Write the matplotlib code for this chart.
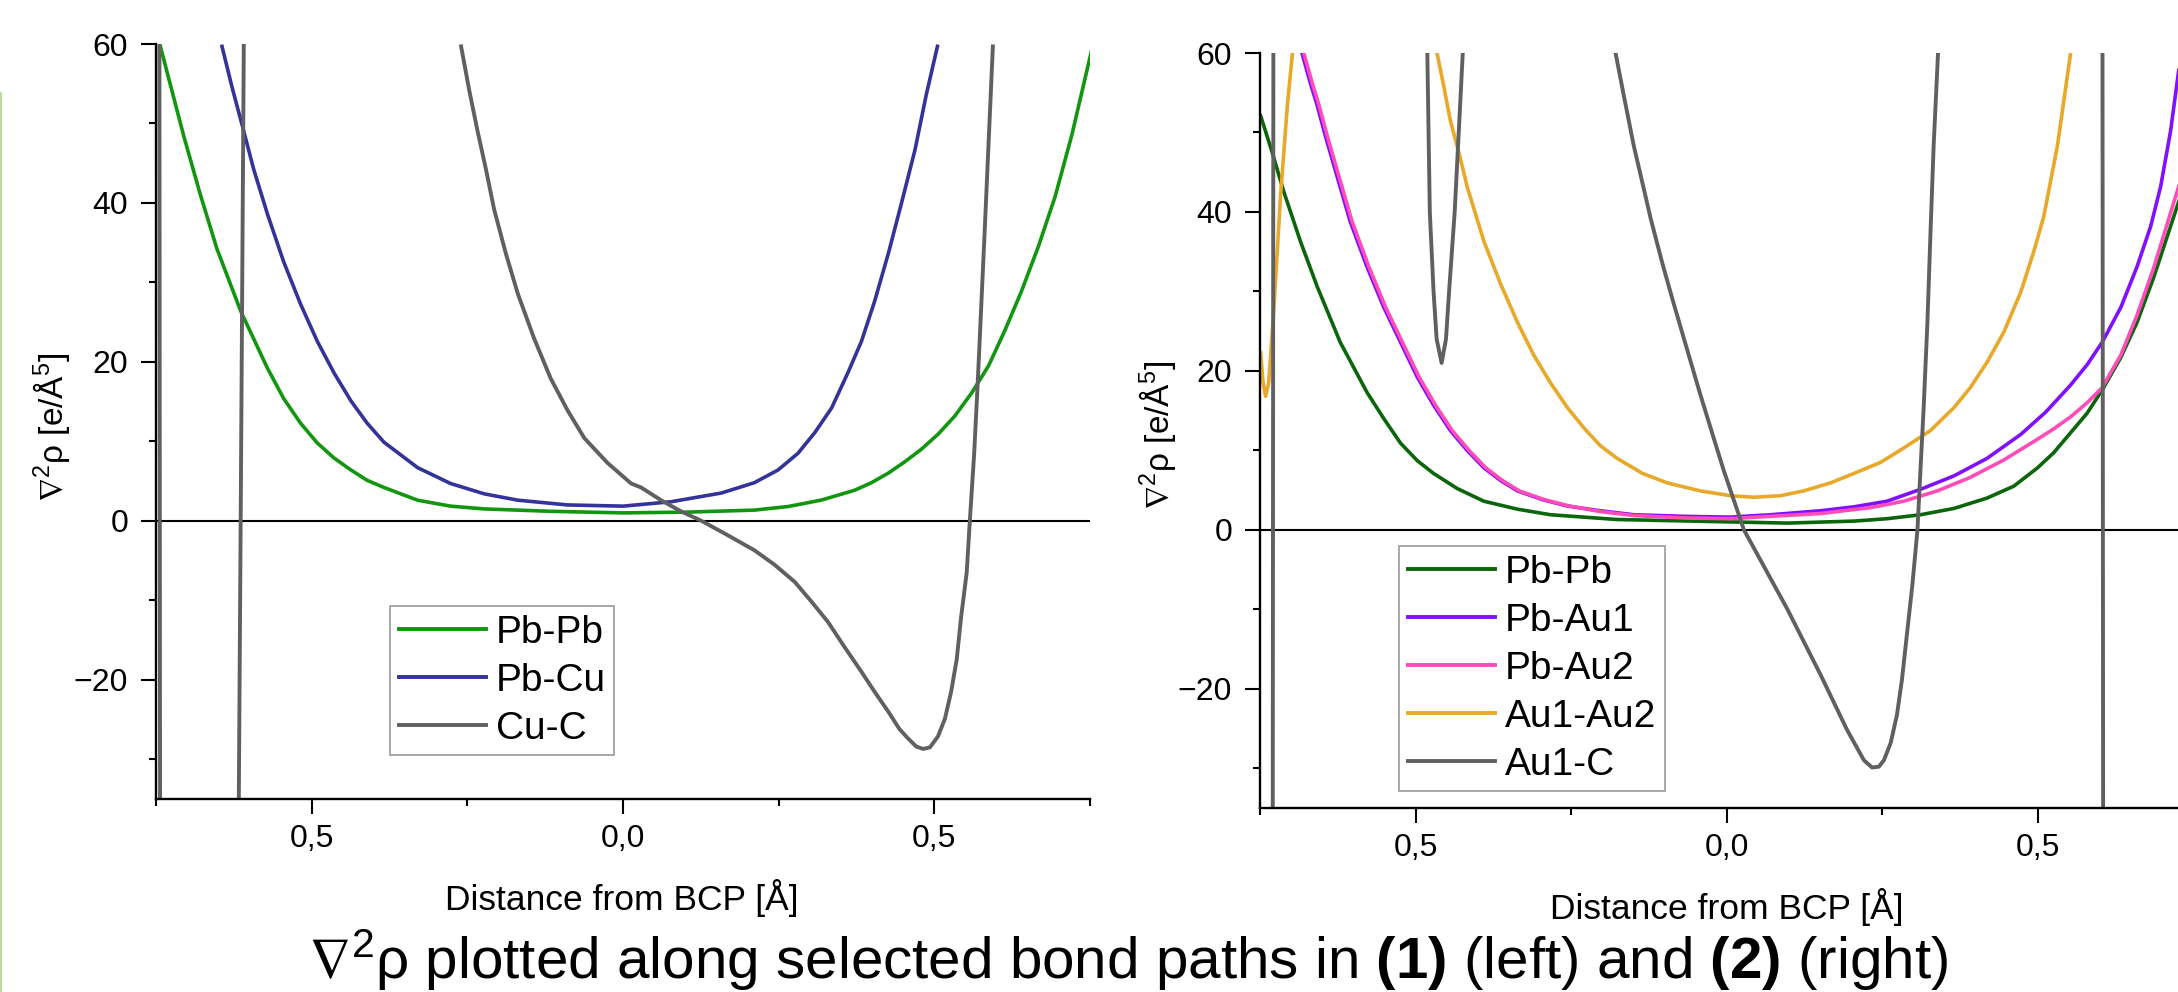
import numpy as np
import matplotlib
matplotlib.use("Agg")
import matplotlib.pyplot as plt
from matplotlib.lines import Line2D
from matplotlib.ticker import FixedLocator, FixedFormatter

plt.rcParams['font.family'] = ['Liberation Sans', 'DejaVu Sans']
plt.rcParams['mathtext.fontset'] = 'custom'
plt.rcParams['mathtext.rm'] = 'Liberation Sans'
plt.rcParams['mathtext.it'] = 'Liberation Sans:italic'
plt.rcParams['mathtext.bf'] = 'Liberation Sans:bold'
plt.rcParams['mathtext.fallback'] = 'stixsans'

nan = np.nan

# ----- data, compound (1) (left) ------------------------------------

l_pbpb_x = [-0.743, -0.727, -0.705, -0.679, -0.652, -0.614, -0.571, -0.545, -0.518, -0.491,
            -0.464, -0.437, -0.411, -0.384, -0.330, -0.277, -0.223, -0.116, 0.0, 0.104,
            0.211, 0.265, 0.318, 0.372, 0.399, 0.426, 0.452, 0.479, 0.506, 0.533,
            0.560, 0.587, 0.613, 0.640, 0.667, 0.694, 0.721, 0.752]
l_pbpb_y = [59.7, 54.9, 48.3, 41.1, 34.2, 26.4, 19.2, 15.4, 12.3, 9.8,
            7.9, 6.4, 5.1, 4.2, 2.6, 1.85, 1.5, 1.2, 1.0, 1.1,
            1.35, 1.8, 2.6, 3.85, 4.8, 6.0, 7.4, 9.0, 10.9, 13.2,
            16.1, 19.5, 23.9, 28.9, 34.5, 40.8, 48.6, 59.0]

l_pbcu_x = [-0.644, -0.628, -0.611, -0.593, -0.571, -0.545, -0.518, -0.491, -0.464, -0.437,
            -0.411, -0.384, -0.330, -0.277, -0.223, -0.169, -0.089, 0.0, 0.077, 0.158,
            0.211, 0.249, 0.281, 0.308, 0.335, 0.361, 0.383, 0.404, 0.426, 0.447,
            0.469, 0.487, 0.505]
l_pbcu_y = [59.7, 54.6, 49.6, 44.2, 38.6, 32.6, 27.3, 22.6, 18.6, 15.1,
            12.3, 9.9, 6.7, 4.7, 3.4, 2.6, 2.0, 1.85, 2.4, 3.5,
            4.8, 6.4, 8.5, 11.1, 14.2, 18.6, 22.6, 27.6, 33.6, 39.9,
            46.7, 53.6, 59.7]

l_cuc_x = [-0.7445, -0.7435, nan,
           -0.617, -0.613, -0.609, nan,
           -0.260, -0.247, -0.234, -0.220, -0.207, -0.188, -0.169, -0.143, -0.116, -0.089,
           -0.062, -0.025, 0.013, 0.029, 0.061, 0.093, 0.126, 0.168, 0.211, 0.243,
           0.276, 0.302, 0.329, 0.356, 0.383, 0.404, 0.426, 0.444, 0.458, 0.471,
           0.482, 0.493, 0.506, 0.517, 0.527, 0.536, 0.543, 0.552, 0.557, 0.564,
           0.570, 0.581, 0.594]
l_cuc_y = [60, -35, nan,
           -35, 12, 60, nan,
           59.7, 54.2, 49.2, 44.2, 39.2, 33.6, 28.6, 23.0, 17.9, 13.9,
           10.4, 7.3, 4.7, 4.2, 2.6, 1.2, 0.0, -1.8, -3.7, -5.5,
           -7.7, -10.1, -12.7, -15.9, -19.0, -21.5, -24.0, -26.2, -27.4, -28.4,
           -28.7, -28.5, -27.1, -24.9, -21.5, -17.4, -12.1, -6.5, 0.0, 8.5,
           17.9, 36.7, 59.7]

# ----- data, compound (2) (right) -----------------------------------

r_pbpb_x = [-0.749, -0.730, -0.712, -0.685, -0.658, -0.621, -0.578, -0.551, -0.524, -0.497,
            -0.471, -0.433, -0.390, -0.336, -0.283, -0.176, 0.006, 0.098, 0.205, 0.258,
            0.312, 0.366, 0.419, 0.462, 0.500, 0.526, 0.553, 0.580, 0.604, 0.634,
            0.660, 0.687, 0.727]
r_pbpb_y = [52.1, 47.4, 42.6, 36.3, 30.6, 23.6, 17.3, 14.0, 10.9, 8.7,
            7.1, 5.2, 3.6, 2.6, 1.9, 1.3, 1.0, 0.85, 1.1, 1.4,
            1.9, 2.7, 4.0, 5.5, 7.8, 9.7, 12.2, 14.7, 17.6, 21.7,
            26.1, 31.8, 41.3]

r_pbau1_x = [-0.682, -0.669, -0.658, -0.645, -0.631, -0.618, -0.605, -0.578, -0.551, -0.524,
             -0.497, -0.471, -0.444, -0.417, -0.390, -0.363, -0.336, -0.296, -0.256, -0.203,
             -0.149, -0.069, 0.006, 0.071, 0.151, 0.205, 0.258, 0.312, 0.366, 0.419,
             0.473, 0.513, 0.553, 0.580, 0.604, 0.634, 0.660, 0.682, 0.698, 0.714,
             0.727]
r_pbau1_y = [59.85, 56.2, 53.4, 49.6, 45.8, 42.3, 38.8, 33.1, 28.0, 23.6,
             19.2, 15.7, 12.5, 10.0, 7.8, 6.2, 4.9, 3.8, 3.0, 2.4,
             1.9, 1.7, 1.6, 1.9, 2.4, 2.9, 3.6, 5.1, 6.8, 9.0,
             12.0, 14.8, 18.2, 20.8, 23.6, 28.0, 33.1, 38.2, 43.2, 50.2,
             57.8]

r_pbau2_x = [-0.679, -0.666, -0.655, -0.642, -0.628, -0.615, -0.602, -0.575, -0.548, -0.521,
             -0.494, -0.468, -0.441, -0.414, -0.387, -0.360, -0.333, -0.293, -0.253, -0.203,
             -0.149, -0.069, 0.006, 0.071, 0.151, 0.232, 0.285, 0.339, 0.392, 0.446,
             0.500, 0.526, 0.553, 0.580, 0.604, 0.634, 0.660, 0.687, 0.727]
r_pbau2_y = [59.85, 56.2, 53.4, 49.6, 45.8, 42.3, 38.8, 33.1, 28.0, 23.6,
             19.2, 15.7, 12.5, 10.0, 7.8, 6.2, 4.9, 3.8, 3.0, 2.3,
             1.8, 1.5, 1.4, 1.7, 2.05, 2.8, 3.6, 4.9, 6.6, 8.8,
             11.4, 12.7, 14.2, 16.0, 17.9, 22.0, 27.0, 33.0, 43.2]

r_auau_x = [-0.749, -0.745, -0.741, -0.736, -0.728, -0.717, -0.706, -0.698, nan,
            -0.465, -0.454, -0.444, -0.430, -0.417, -0.390, -0.363, -0.336, -0.310, -0.283,
            -0.256, -0.229, -0.203, -0.176, -0.135, -0.095, -0.042, 0.006, 0.044, 0.087,
            0.124, 0.167, 0.205, 0.248, 0.285, 0.328, 0.366, 0.392, 0.419, 0.446,
            0.473, 0.494, 0.510, 0.532, 0.553]
r_auau_y = [22.3, 18.5, 16.8, 18.5, 27.4, 42.0, 53.4, 59.85, nan,
            59.85, 55.6, 51.5, 47.4, 43.2, 36.3, 30.9, 26.1, 22.0, 18.5,
            15.4, 12.8, 10.6, 9.0, 7.1, 5.9, 4.9, 4.3, 4.1, 4.3,
            4.9, 5.9, 7.1, 8.5, 10.3, 12.5, 15.4, 17.9, 21.1, 24.9,
            29.9, 35.0, 39.4, 48.3, 59.85]

r_auc_x = [-0.7295, -0.7285, nan,
           -0.481, -0.477, -0.471, -0.466, -0.458, -0.451, -0.446, -0.437, -0.424, nan,
           -0.178, -0.165, -0.149, -0.135, -0.122, -0.103, -0.085, -0.063, -0.042, -0.020,
           -0.005, 0.028, 0.098, 0.151, 0.194, 0.221, 0.234, 0.245, 0.253, 0.264,
           0.274, 0.282, 0.290, 0.299, 0.307, 0.312, 0.317, 0.323, 0.328, 0.333,
           0.340, nan,
           0.6045, 0.6055]
r_auc_y = [-35, 60, nan,
           60, 40, 30, 24, 21.0, 24, 30, 40, 60, nan,
           59.85, 54.6, 48.3, 43.6, 39.2, 33.5, 28.5, 22.6, 17.0, 11.4,
           7.6, 0.0, -10.0, -18.2, -25.2, -29.0, -29.9, -29.8, -29.0, -26.8,
           -23.3, -18.9, -13.2, -6.8, 0.0, 7.8, 15.4, 26.1, 37.5, 48.3,
           59.85, nan,
           60, -35]

x_ticks = [-0.5, 0.0, 0.5]
x_tick_labels = ["0,5", "0,0", "0,5"]
x_minor = [-0.75, -0.25, 0.25, 0.75]
y_ticks = [-20, 0, 20, 40, 60]
y_minor = [-30, -10, 10, 30, 50]

left_series = [
    (l_pbpb_x, l_pbpb_y, "Pb-Pb", "#13960f"),
    (l_pbcu_x, l_pbcu_y, "Pb-Cu", "#33339a"),
    (l_cuc_x, l_cuc_y, "Cu-C", "#606060"),
]
right_series = [
    (r_pbpb_x, r_pbpb_y, "Pb-Pb", "#0b660b"),
    (r_pbau1_x, r_pbau1_y, "Pb-Au1", "#8010ff"),
    (r_pbau2_x, r_pbau2_y, "Pb-Au2", "#ff4cb8"),
    (r_auau_x, r_auau_y, "Au1-Au2", "#e8a82a"),
    (r_auc_x, r_auc_y, "Au1-C", "#606060"),
]

# ----- figure -------------------------------------------------------

W, H = 2178, 992
fig = plt.figure(figsize=(W / 100, H / 100), dpi=100)


def px_axes(x0, top, w, h):
    return fig.add_axes([x0 / W, 1 - (top + h) / H, w / W, h / H])


def style(ax):
    ax.set_xlim(-0.75, 0.75)
    ax.set_ylim(-35, 60)
    ax.axhline(0, color="black", lw=1.5, zorder=1.5)
    for s in ("top", "right"):
        ax.spines[s].set_visible(False)
    for s in ("left", "bottom"):
        ax.spines[s].set_linewidth(1.7)
    ax.xaxis.set_major_locator(FixedLocator(x_ticks))
    ax.xaxis.set_major_formatter(FixedFormatter(x_tick_labels))
    ax.xaxis.set_minor_locator(FixedLocator(x_minor))
    ax.yaxis.set_major_locator(FixedLocator(y_ticks))
    ax.yaxis.set_minor_locator(FixedLocator(y_minor))
    ax.tick_params(which="major", length=10.5, width=1.5, labelsize=23, direction="out")
    ax.tick_params(which="minor", length=5, width=1.5, direction="out")
    ax.tick_params(axis="x", which="major", pad=7.5)
    ax.tick_params(axis="y", which="major", pad=9.5)


def legend(ax, series, x, y):
    handles = [Line2D([], [], color=c, lw=2.8) for _, _, _, c in series]
    labels = [n for _, _, n, _ in series]
    lg = ax.legend(handles, labels, loc="upper left",
                   bbox_to_anchor=(x / W, 1 - y / H), bbox_transform=fig.transFigure,
                   fontsize=28, frameon=True, fancybox=False, borderpad=0.22,
                   handlelength=2.25, handletextpad=0.25, labelspacing=0.31,
                   borderaxespad=0)
    lg.get_frame().set_edgecolor("#8a8a8a")
    lg.get_frame().set_linewidth(1.3)


axL = px_axes(156, 44, 934, 755)
axR = px_axes(1260, 53, 933, 755)

for ax, series in ((axL, left_series), (axR, right_series)):
    style(ax)
    for xs, ys, name, col in series:
        lw = 2.8 if col == "#606060" else 2.6
        ax.plot(xs, ys, color=col, lw=lw, zorder=2, solid_joinstyle="round")

legend(axL, left_series, 390, 606)
legend(axR, right_series, 1399, 546)

ylab = "$\\nabla^2$\u03c1 [e/\u00c5$^5$]"
fig.text(52 / W, 1 - 427 / H, ylab, rotation=90, ha="center", va="center", fontsize=24)
fig.text(1158 / W, 1 - 435 / H, ylab, rotation=90, ha="center", va="center", fontsize=24)

xlab = "Distance from BCP [\u00c5]"
fig.text(622 / W, 1 - 898 / H, xlab, ha="center", va="center", fontsize=25.5)
fig.text(1727 / W, 1 - 907 / H, xlab, ha="center", va="center", fontsize=25.5)

title = ("$\\nabla^2$\u03c1 plotted along selected bond paths in "
         "$\\mathbf{(1)}$ (left) and $\\mathbf{(2)}$ (right)")
fig.text(1128 / W, 1 - 960 / H, title, ha="center", va="center", fontsize=42)

# thin green strip left over at the left edge of the crop
fig.add_artist(Line2D([0.6 / W, 0.6 / W], [1 - 93 / H, 0], color="#a6d68e", lw=1.2))

fig.savefig("out.png", dpi=100)
